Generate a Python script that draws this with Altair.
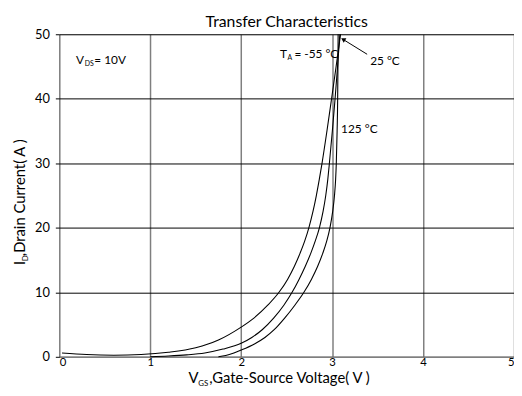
import altair as alt
import pandas as pd

FONT = "Lato"

# ---- curve data (V_GS in volts, I_D in amps) ----
vgs_m55 = [0.03, 0.3, 0.6, 0.9, 1.2, 1.5, 1.75, 2.0, 2.14, 2.292, 2.416, 2.51, 2.584, 2.646, 2.70, 2.744,
           2.789, 2.8265, 2.859, 2.889, 2.943, 2.994, 3.044, 3.093]
id_m55 = [0.6, 0.35, 0.25, 0.35, 0.7, 1.4, 2.6, 4.6, 6.0, 8.0, 10.0, 12.0, 14.0, 16.0, 18.0, 20.0,
          22.5, 25.0, 27.5, 30.0, 35.0, 40.0, 45.0, 50.0]

vgs_25 = [1.0, 1.2, 1.4, 1.6, 1.8, 2.0, 2.117, 2.231, 2.357, 2.469, 2.56, 2.636, 2.704, 2.764, 2.816, 2.86,
          2.90, 2.93, 2.9525, 2.97, 3.0025, 3.0325, 3.06, 3.085]
id_25 = [0.0, 0.12, 0.3, 0.6, 1.2, 2.1, 3.0, 4.2, 6.0, 8.0, 10.0, 12.0, 14.0, 16.0, 18.0, 20.0,
         22.5, 25.0, 27.5, 30.0, 35.0, 40.0, 45.0, 50.0]

vgs_125 = [1.75, 1.83, 1.92, 2.0, 2.146, 2.261, 2.363, 2.478, 2.59, 2.69, 2.772, 2.84, 2.896, 2.942, 2.976,
           3.006, 3.026, 3.0385, 3.046, 3.055, 3.061, 3.064, 3.066]
id_125 = [0.0, 0.2, 0.6, 1.05, 2.0, 3.0, 4.2, 6.0, 8.0, 10.0, 12.0, 14.0, 16.0, 18.0, 20.0,
          22.5, 25.0, 27.5, 30.0, 35.0, 40.0, 45.0, 50.0]

x_ticks = [0, 1, 2, 3, 4, 5]
y_ticks = [0, 10, 20, 30, 40, 50]

# annotation texts (data coordinates)
ann_text = ["V", "DS", "= 10V", "T", "A", "= -55 °C", "25 °C", "125 °C"]
ann_vgs = [0.185, 0.28, 0.385, 2.427, 2.51, 2.585, 3.418, 3.099]
ann_id = [46.0, 45.4, 46.0, 46.9, 46.3, 46.9, 45.9, 35.3]
ann_fs = [12, 7, 12, 12, 7, 12, 12, 12]

arrow_from = (3.385, 46.9)
arrow_to = (3.121, 49.2)

chart_title = "Transfer Characteristics"

frames = []
for name, xs, ys in [("-55", vgs_m55, id_m55), ("25", vgs_25, id_25), ("125", vgs_125, id_125)]:
    frames.append(pd.DataFrame({"vgs": xs, "id": ys, "curve": name}))
curves = pd.concat(frames, ignore_index=True)

ann = pd.DataFrame({"vgs": ann_vgs, "id": ann_id, "text": ann_text, "fs": ann_fs})
arrow = pd.DataFrame({"x": [arrow_from[0]], "y": [arrow_from[1]], "x2": [arrow_to[0]], "y2": [arrow_to[1]]})

xscale = alt.Scale(domain=[0, 5], nice=False)
yscale = alt.Scale(domain=[0, 50], nice=False)

xaxis = alt.Axis(values=x_ticks, format="d", title=None, grid=True, gridColor="#7f7f7f", gridWidth=1.5,
                 ticks=False, domainColor="#7f7f7f", domainWidth=1.5, labelFont=FONT,
                 labelFontSize=11.5, labelColor="#000", labelPadding=0)
yaxis = alt.Axis(values=y_ticks, format="d", title=None, grid=True, gridColor="#000", gridWidth=1,
                 ticks=True, tickSize=4, tickColor="#000", domain=False, labelFont=FONT,
                 labelFontSize=13, labelColor="#000", labelPadding=6)

lines = alt.Chart(curves).mark_line(color="black", strokeWidth=1.1, interpolate="monotone").encode(
    x=alt.X("vgs:Q", scale=xscale, axis=xaxis),
    y=alt.Y("id:Q", scale=yscale, axis=yaxis),
    detail="curve:N",
)

texts = alt.Chart(ann).mark_text(align="left", baseline="middle", font=FONT, color="black").encode(
    x=alt.X("vgs:Q", scale=xscale),
    y=alt.Y("id:Q", scale=yscale),
    text="text:N",
    size=alt.Size("fs:Q", scale=None, legend=None),
)

arrow_line = alt.Chart(arrow).mark_rule(color="black", strokeWidth=1).encode(
    x=alt.X("x:Q", scale=xscale), y=alt.Y("y:Q", scale=yscale),
    x2="x2:Q", y2="y2:Q",
)
arrow_head = alt.Chart(arrow).mark_point(shape="triangle-up", filled=True, color="black",
                                         size=28, angle=300, opacity=1).encode(
    x=alt.X("x2:Q", scale=xscale), y=alt.Y("y2:Q", scale=yscale),
)

# titles (pixel positions relative to plot area)
title_df = pd.DataFrame({"t": [chart_title], "px": [230.5], "py": [-7]})
title = alt.Chart(title_df).mark_text(align="center", baseline="alphabetic", font=FONT, fontSize=16,
                                      color="black").encode(
    x=alt.X("px:Q", scale=None), y=alt.Y("py:Q", scale=None), text="t:N",
)
ytitle_parts = pd.DataFrame({"t": ["I", "D", ",Drain Current( A )"],
                             "px": [-35, -32, -35], "py": [234, 230, 225], "fs": [15, 8, 15]})
ytitle = alt.Chart(ytitle_parts).mark_text(align="left", baseline="alphabetic", angle=270,
                                           font=FONT, color="black").encode(
    x=alt.X("px:Q", scale=None), y=alt.Y("py:Q", scale=None), text="t:N",
    size=alt.Size("fs:Q", scale=None, legend=None),
)
xtitle_parts = pd.DataFrame({"t": ["V", "GS", " ,Gate-Source Voltage( V )"],
                             "px": [131, 141, 152], "py": [354, 357, 354], "fs": [15, 8, 15]})
xtitle = alt.Chart(xtitle_parts).mark_text(align="left", baseline="alphabetic",
                                           font=FONT, color="black").encode(
    x=alt.X("px:Q", scale=None), y=alt.Y("py:Q", scale=None), text="t:N",
    size=alt.Size("fs:Q", scale=None, legend=None),
)

chart = alt.layer(lines, arrow_line, arrow_head, texts, title, ytitle, xtitle).properties(
    width=461, height=327,
    padding={"left": 52, "top": 24, "right": 0, "bottom": 30},
    autosize=alt.AutoSizeParams(type="none"),
).configure_view(stroke="#000", strokeWidth=1).configure(background="white")

chart.save("out.html", embed_options={"renderer": "svg", "actions": False})
